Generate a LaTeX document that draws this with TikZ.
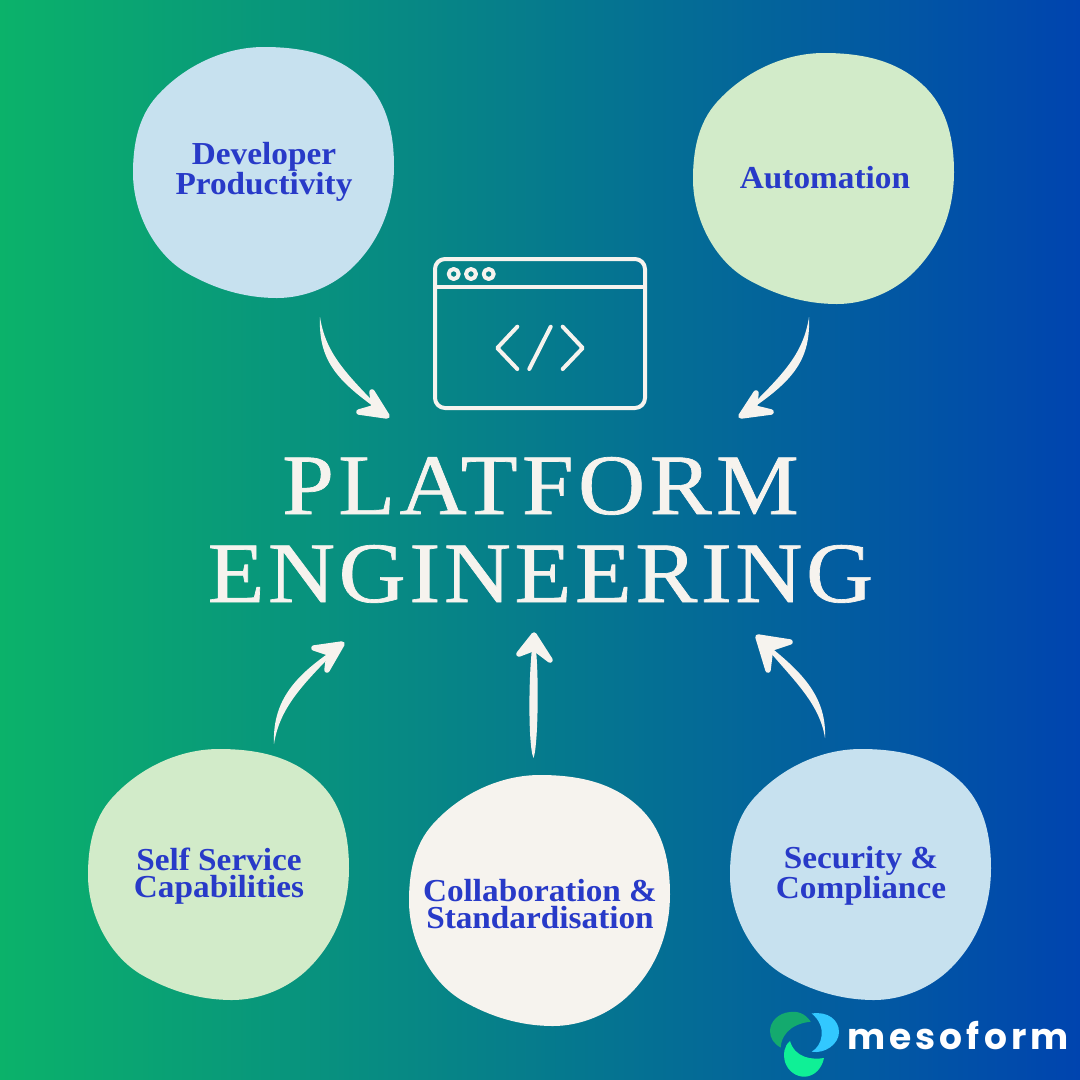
\documentclass[tikz,border=0pt]{standalone}
\usepackage{fontspec}
\usetikzlibrary{calc}
\setmainfont{Liberation Serif}
\newfontfamily\labelfont[FakeStretch=1.04]{Liberation Serif}
\newfontfamily\titlefontA[LetterSpace=5.2,FakeStretch=1.08,FakeBold=0.8]{Liberation Serif}
\newfontfamily\titlefontB[LetterSpace=4.2,FakeStretch=1.08,FakeBold=0.8]{Liberation Serif}
\newfontfamily\logofont[LetterSpace=11.4]{Poppins}
\definecolor{gradl}{RGB}{11,178,106}
\definecolor{gradr}{RGB}{0,68,175}
\definecolor{paleblue}{RGB}{199,225,239}
\definecolor{palegreen}{RGB}{210,235,201}
\definecolor{offwhite}{RGB}{246,243,238}
\definecolor{labelblue}{RGB}{40,58,200}
\definecolor{logodark}{RGB}{20,170,110}
\definecolor{logocyan}{RGB}{50,200,255}
\definecolor{logobright}{RGB}{15,240,150}
\tikzset{
  bloblabel/.style={text=labelblue,align=center,inner sep=0pt,font=\fontsize{32}{27}\selectfont\labelfont\bfseries},
  titletext/.style={text=offwhite,anchor=base,inner sep=0pt},
  iconline/.style={draw=offwhite,line width=4pt,line cap=round,line join=round},
  swoosh/.style={fill=offwhite,draw=none},
  swooshhead/.style={fill=offwhite,draw=offwhite,line width=5.5pt,line join=round},
}
% tail, control 1, control 2, tip, barb 1, barb 2, half-width vector
\newcommand{\swooshconn}[7]{%
  \fill[swoosh] (#1) .. controls ($(#2)+(#7)$) and ($(#3)+(#7)$) .. (#4)
     .. controls ($(#3)-(#7)$) and ($(#2)-(#7)$) .. (#1) -- cycle;
  \path[swooshhead] (#5) -- (#4) -- (#6) -- ($(#4)!0.6!($(#5)!0.5!(#6)$)$) -- cycle;
}
% the blob outline that all five share; #1 is its top-left corner, #2 its fill
\newcommand{\blob}[2]{%
  \fill[#2,shift={(#1)}] (131,0)
    .. controls (173,0) and (208,9) .. (234,36)
    .. controls (255,58) and (261,89) .. (261,119)
    .. controls (261,157) and (248,192) .. (221,219)
    .. controls (201,239) and (172,251) .. (144,251)
    .. controls (112,251) and (82,242) .. (54,226)
    .. controls (21,207) and (0,165) .. (0,126)
    .. controls (0,98) and (5,70) .. (24,49)
    .. controls (51,19) and (91,0) .. (131,0) -- cycle;
}
\begin{document}
\begin{tikzpicture}[x=1pt,y=-1pt]
\useasboundingbox (0,0) rectangle (1080,1080);
\shade[left color=gradl,right color=gradr] (0,0) rectangle (1080,1080);
% blobs
\blob{133,47}{paleblue}
\blob{693,53}{palegreen}
\blob{88,749}{palegreen}
\blob{409,775}{offwhite}
\blob{730,749}{paleblue}
% labels
\node[bloblabel] (dev) at (264,171.5) {Developer\\Productivity};
\node[bloblabel] (auto) at (825,178) {Automation};
\node[bloblabel] (self) at (219,876) {Self Service\\Capabilities};
\node[bloblabel] (coll) at (540,904) {Collaboration \&\\Standardisation};
\node[bloblabel] (sec) at (861,876) {Security \&\\Compliance};
% window icon
\draw[iconline,rounded corners=10pt] (435,259) rectangle (645,408);
\draw[iconline] (435,287) -- (645,287);
\draw[iconline] (453.7,274) circle (5);
\draw[iconline] (471,274) circle (5);
\draw[iconline] (488.7,274) circle (5);
\draw[iconline] (517.3,326.7) -- (497.3,348) -- (517.3,369);
\draw[iconline] (550.7,326.7) -- (529.3,369);
\draw[iconline] (562.7,326.7) -- (582.7,348) -- (562.7,369);
% title
\node[titletext,font=\fontsize{86}{86}\selectfont\titlefontA] (plat) at (540.5,514) {PLATFORM};
\node[titletext,font=\fontsize{86}{86}\selectfont\titlefontB] (eng) at (540.5,602) {ENGINEERING};
% connectors
\coordinate (t1) at (320,317); \coordinate (h1) at (387,416);
\coordinate (t2) at (809,317); \coordinate (h2) at (741,416);
\coordinate (t3) at (274,744); \coordinate (h3) at (342,644);
\coordinate (t4) at (533.5,758); \coordinate (h4) at (534,635);
\coordinate (t5) at (825,738); \coordinate (h5) at (758,637);
\swooshconn{t1}{322,360}{345,380}{h1}{372,392}{359,412}{4,-4}
\swooshconn{t2}{807,360}{785,380}{h2}{756,393}{771,412}{-4,-4}
\swooshconn{t3}{276,700}{305,675}{h3}{314,648}{327,670}{-4,-4}
\swooshconn{t4}{533,745}{534,660}{h4}{519,654}{550,660}{-5.5,0}
\swooshconn{t5}{823,695}{790,670}{h5}{790,642}{768,670}{4,-4}
% logo
\fill[logodark] (810.7,1021.7) .. controls (805,1013) and (797,1011) .. (790,1012) .. controls (778,1013) and (770,1022) .. (770,1031) .. controls (770,1038) and (774,1044) .. (780.7,1047.5) .. controls (781,1038) and (788,1024) .. (810.7,1021.7) -- cycle;
\fill[logocyan] (811.7,1013.5) .. controls (828,1011) and (839,1020) .. (839,1032) .. controls (839,1044) and (825,1054) .. (811.7,1051.7) .. controls (822,1046) and (828,1027) .. (811.7,1013.5) -- cycle;
\fill[logobright] (790,1041) .. controls (784,1046) and (783,1054) .. (785,1062) .. controls (788,1071) and (796,1077) .. (805,1076.7) .. controls (815,1076) and (822,1068) .. (824,1058) .. controls (812,1060) and (795,1058) .. (790,1041) -- cycle;
\node[text=white,anchor=base west,inner sep=0pt,font=\fontsize{36}{36}\selectfont\logofont\bfseries] (logo) at (847,1049) {mesoform};
\end{tikzpicture}
\end{document}
